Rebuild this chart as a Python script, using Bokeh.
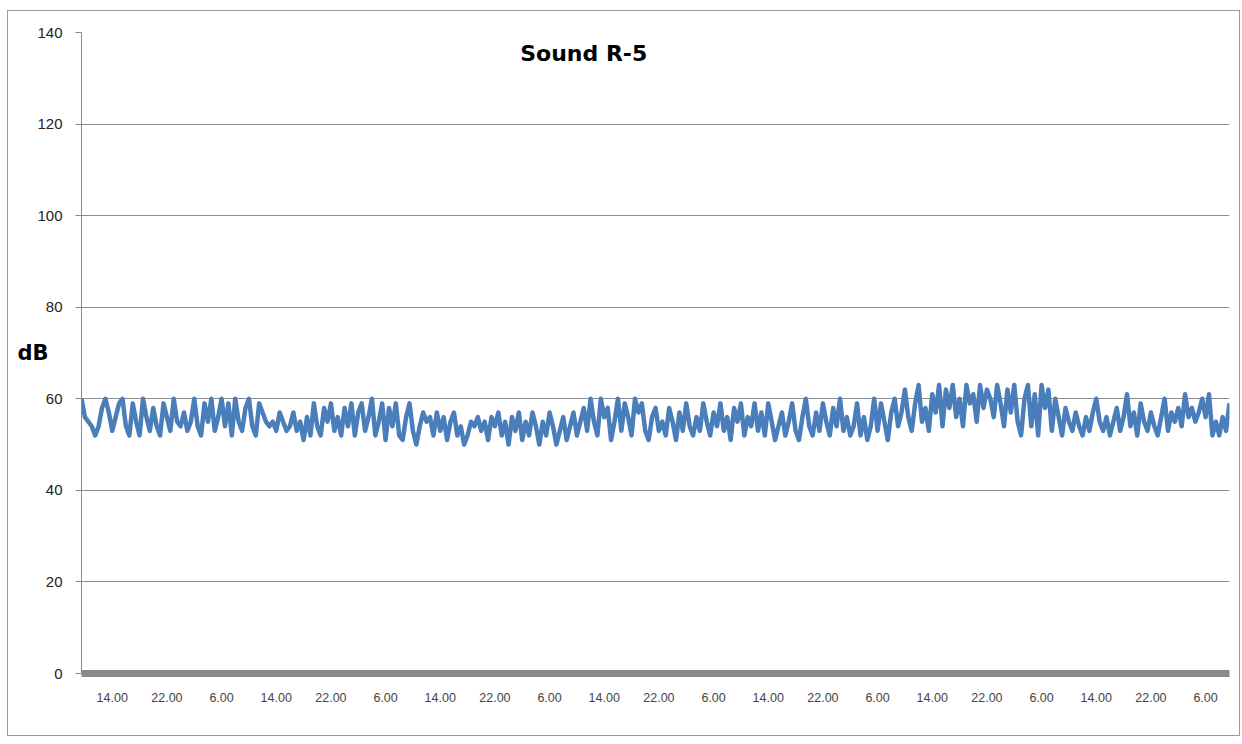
from bokeh.plotting import figure
from bokeh.models import FixedTicker, Label, Range1d
from bokeh.embed import file_html
from bokeh.resources import INLINE

# Half-hourly sound level readings (dB)
db_values = [
    60, 56, 55, 54, 52, 54, 58, 60, 57, 53, 56, 59,
    60, 54, 52, 59, 55, 52, 60, 56, 53, 58, 54, 52,
    59, 56, 53, 60, 55, 54, 57, 53, 55, 60, 54, 52,
    59, 55, 60, 53, 56, 60, 54, 59, 52, 60, 55, 53,
    58, 60, 54, 52, 59, 57, 55, 54, 55, 53, 57, 55,
    53, 54, 57, 53, 55, 51, 56, 52,
    59, 54, 52, 58, 55, 59, 53, 56, 52, 58, 54, 59,
    52, 57, 59, 53, 56, 60, 52, 55, 59, 51, 58, 54,
    59, 52, 51, 56, 59, 53, 50, 54, 57, 55, 56, 52,
    57, 53, 56, 51, 55, 57, 52, 54, 50, 52, 55, 54,
    56, 53, 55, 51, 56, 54, 57, 52, 55, 50, 56, 53,
    57, 51, 55, 52, 57, 54, 50, 55,
    52, 57, 54, 50, 53, 56, 51, 54, 57, 52, 55, 58,
    53, 60, 55, 52, 60, 56, 58, 51, 55, 60, 53, 59,
    56, 52, 60, 57, 59, 53, 51, 56, 58, 53, 55, 52,
    58, 55, 51, 57, 53, 59, 54, 52, 56, 53, 59, 55,
    52, 57, 54, 59, 53, 56, 51, 58, 55, 59, 52, 56,
    54, 59, 53, 57, 52, 59,
    55, 51, 54, 57, 52, 55, 59, 53, 51, 56, 60, 54,
    52, 57, 53, 59, 55, 52, 58, 54, 60, 53, 56, 52,
    54, 59, 52, 56, 51, 54, 60, 53, 59, 55, 51, 57,
    60, 54, 57, 62, 56, 53, 59, 63, 55, 58, 53, 61,
    57, 63, 54, 62, 58, 63, 56, 60, 54, 63, 59, 61,
    55, 63, 58, 62, 60, 56, 63, 59,
    54, 62, 57, 63, 55, 52, 60, 63, 54, 61, 52, 63,
    58, 62, 53, 60, 56, 52, 58, 55, 53, 57, 54, 52,
    56, 53, 57, 60, 55, 53, 56, 52, 55, 58, 53, 56,
    61, 54, 57, 52, 59, 55, 53, 57, 54, 52, 56, 60,
    53, 57, 55, 58, 54, 61, 56, 58, 55, 57, 60, 56,
    61, 52, 55, 52, 56, 53, 59,
]
step_hours = 0.5
hours = [i * step_hours for i in range(len(db_values))]

# x tick positions (hours since start) and their labels
tick_hours = [4.5 + 8 * k for k in range(21)]
tick_labels = ["14.00", "22.00", "6.00"] * 7
y_ticks = [0, 20, 40, 60, 80, 100, 120, 140]

title_text = "Sound R-5"
y_label_text = "dB"

p = figure(width=1233, height=726, output_backend="svg", toolbar_location=None,
           x_range=Range1d(0, 168), y_range=Range1d(0, 140),
           min_border_left=73, min_border_right=12, min_border_top=21,
           min_border_bottom=64, background_fill_color="white",
           border_fill_color="white")
p.styles = {"border": "1px solid #9a9a9a", "box-sizing": "border-box",
            "margin-left": "7px", "margin-top": "10px"}
p.outline_line_color = None

p.line(hours, db_values, line_color="#4A7EBB", line_width=4.5, line_join="round")

# x axis
p.xaxis.ticker = FixedTicker(ticks=tick_hours)
p.xaxis.major_label_overrides = {t: l for t, l in zip(tick_hours, tick_labels)}
p.xaxis.axis_line_color = "#8a8a8a"
p.xaxis.axis_line_width = 7
p.xaxis.major_tick_line_color = None
p.xaxis.minor_tick_line_color = None
p.xaxis.major_label_text_font = "Liberation Sans"
p.xaxis.major_label_text_font_size = "12.5px"
p.xaxis.major_label_text_color = "#444444"
p.xaxis.major_label_standoff = 13

# y axis
p.yaxis.ticker = FixedTicker(ticks=y_ticks)
p.yaxis.axis_line_color = "#8a8a8a"
p.yaxis.major_tick_line_color = "#8a8a8a"
p.yaxis.major_tick_out = 6
p.yaxis.major_tick_in = 0
p.yaxis.minor_tick_line_color = None
p.yaxis.major_label_text_font = "Liberation Sans"
p.yaxis.major_label_text_font_size = "15px"
p.yaxis.major_label_text_color = "#222222"
p.yaxis.major_label_standoff = 13
p.yaxis.axis_label = y_label_text
p.yaxis.axis_label_text_font = "DejaVu Sans"
p.yaxis.axis_label_text_font_style = "bold"
p.yaxis.axis_label_text_font_size = "21px"
p.yaxis.axis_label_text_color = "#000000"
p.yaxis.axis_label_standoff = -14
try:
    p.yaxis.axis_label_orientation = "horizontal"
except Exception:
    pass

p.xgrid.grid_line_color = None
p.ygrid.ticker = FixedTicker(ticks=y_ticks)
p.ygrid.grid_line_color = "#8c8c8c"
p.ygrid.grid_line_width = 1

p.add_layout(Label(x=73.5, y=135.4, text=title_text, text_font="DejaVu Sans",
                   text_font_style="bold", text_font_size="22px",
                   text_align="center", text_baseline="middle", text_color="#000000"))

open("out.html", "w").write(file_html(p, INLINE))
